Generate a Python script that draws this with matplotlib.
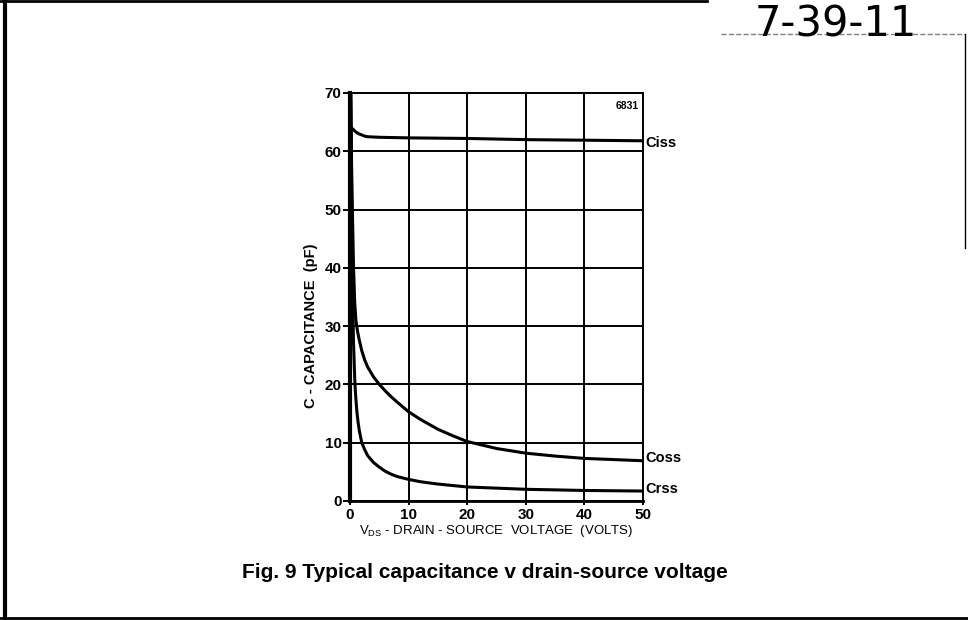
import matplotlib
matplotlib.use('Agg')
import matplotlib.pyplot as plt
from matplotlib.lines import Line2D

plt.rcParams['font.family'] = ['Liberation Sans', 'DejaVu Sans']

# (VDS in volts, C in pF)
vds_ciss = [0, 0.3, 0.7, 1, 1.5, 2, 2.5, 3, 4, 5, 10, 20, 30, 40, 50]
ciss = [64.5, 64.0, 63.6, 63.3, 63.0, 62.8, 62.6, 62.5, 62.45, 62.4, 62.3, 62.2, 62.0, 61.9, 61.8]

vds_coss = [0.1, 0.3, 0.6, 0.8, 1.0, 1.3, 1.6, 2.0, 2.5, 3, 4, 5, 6, 7, 8, 10, 12, 15, 17.5,
            20, 22.5, 25, 30, 35, 40, 45, 50]
coss = [70, 55, 40, 34, 31, 29, 27.5, 25.8, 24.2, 23, 21.3, 20, 18.9, 17.9, 17.0, 15.3, 14.0, 12.3, 11.2,
        10.2, 9.6, 9.0, 8.2, 7.7, 7.3, 7.1, 6.9]

vds_crss = [0.15, 0.3, 0.5, 0.6, 0.7, 0.8, 0.9, 1.0, 1.2, 1.4, 1.6, 2.0, 2.5, 3, 4, 5, 6, 7, 8, 10,
            12, 15, 20, 25, 30, 40, 50]
crss = [70, 50, 32, 27, 24, 21, 19, 17.5, 15, 13.3, 12, 10, 8.8, 7.8, 6.6, 5.8, 5.1, 4.6, 4.2, 3.7,
        3.3, 2.9, 2.4, 2.2, 2.0, 1.8, 1.7]

xticks = [0, 10, 20, 30, 40, 50]
yticks = [0, 10, 20, 30, 40, 50, 60, 70]
curve_names = ['Ciss', 'Coss', 'Crss']
label_y = [61.5, 7.4, 2.1]

fig = plt.figure(figsize=(9.68, 6.2), dpi=100)
ax = fig.add_axes([0.3616, 0.192, 0.3027, 0.658])

ax.plot(vds_ciss, ciss, color='black', lw=2.2)
ax.plot(vds_coss, coss, color='black', lw=2.2)
ax.plot(vds_crss, crss, color='black', lw=2.2)

ax.set_xlim(0, 50)
ax.set_ylim(0, 70)
ax.set_xticks(xticks)
ax.set_yticks(yticks)
ax.grid(True, color='black', lw=1.4)
for s in ax.spines.values():
    s.set_linewidth(1.4)
ax.spines['left'].set_linewidth(3)
ax.spines['bottom'].set_linewidth(2)
ax.tick_params(axis='y', direction='out', length=5, width=1.4, pad=1, labelsize=11)
ax.tick_params(axis='x', direction='inout', length=6, width=1.4, pad=2, labelsize=11)
for t in ax.get_yticklabels() + ax.get_xticklabels():
    t.set_fontweight('bold')

ax.set_ylabel('C - CAPACITANCE  (pF)', fontsize=10.5, fontweight='bold')
ax.yaxis.set_label_coords(-0.11, 0.43)
ax.set_xlabel(r'V$_{\mathregular{DS}}$ - DRAIN - SOURCE  VOLTAGE  (VOLTS)', fontsize=9.5, labelpad=1)

for name, yv in zip(curve_names, label_y):
    ax.text(50.4, yv, name, fontsize=10.5, fontweight='bold', va='center', ha='left')
ax.text(49.2, 68.6, '6831', fontsize=7.5, fontweight='bold', va='top', ha='right')

fig.text(0.501, 0.077, 'Fig. 9 Typical capacitance v drain-source voltage',
         fontsize=15, fontweight='bold', ha='center', va='center')

# handwritten note and page frame
fig.text(0.78, 0.995, '7-39-11', fontsize=30, ha='left', va='top', family='DejaVu Sans')
fig.add_artist(Line2D([0.005, 0.005], [0, 1], color='black', lw=3, transform=fig.transFigure))
fig.add_artist(Line2D([0, 0.73], [0.998, 0.998], color='black', lw=2, transform=fig.transFigure))
fig.add_artist(Line2D([0, 1], [0.003, 0.003], color='black', lw=2, transform=fig.transFigure))
fig.add_artist(Line2D([0.745, 0.997], [0.945, 0.945], color='gray', lw=1, ls='--', transform=fig.transFigure))
fig.add_artist(Line2D([0.997, 0.997], [0.945, 0.6], color='black', lw=1, transform=fig.transFigure))

fig.savefig('out.png', dpi=100)
